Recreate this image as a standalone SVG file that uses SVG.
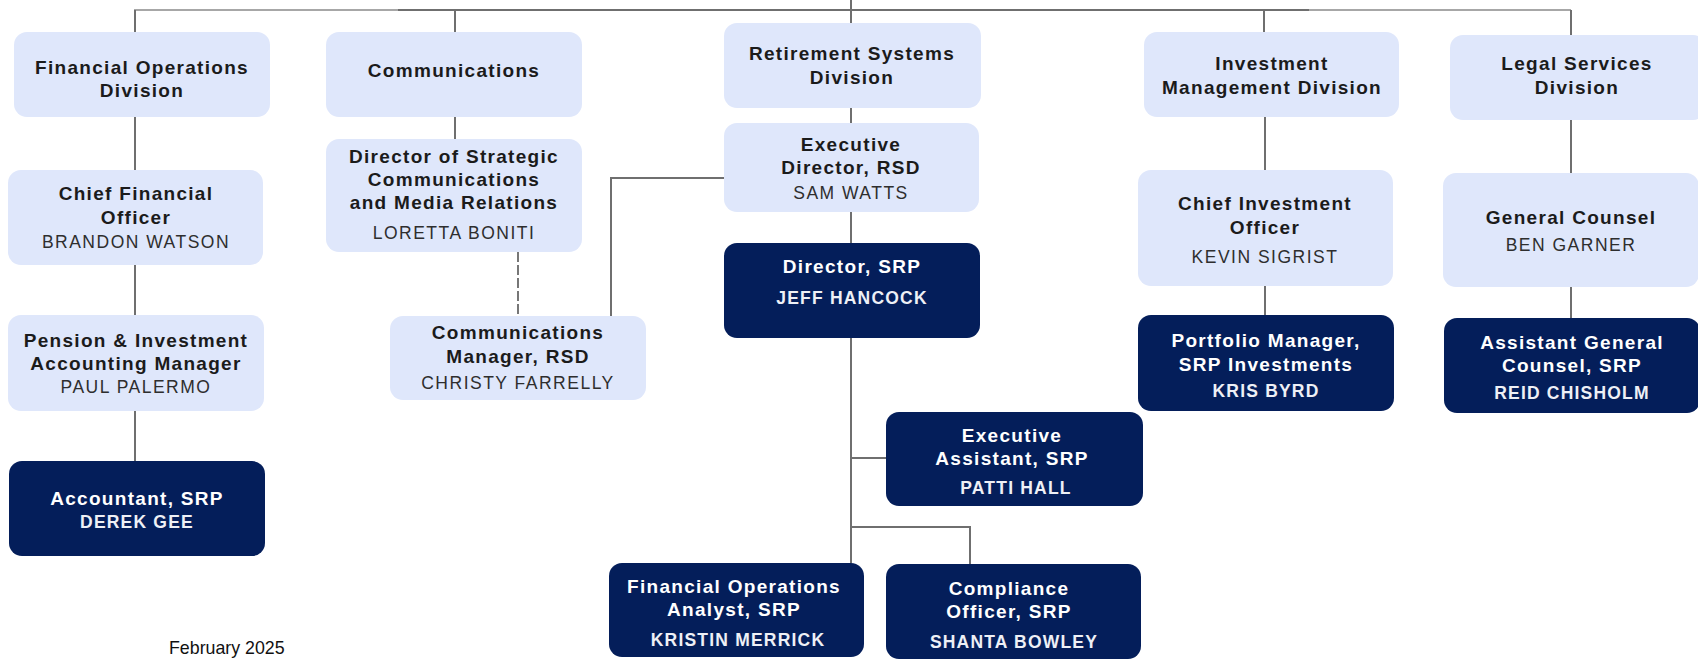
<svg xmlns="http://www.w3.org/2000/svg" width="1698" height="659" viewBox="0 0 1698 659">
<style>
.light{fill:#dfe7fb;}
.dark{fill:#041e5a;}
text{font-family:"Liberation Sans",Arial,sans-serif;text-anchor:middle;}
.t{font-size:19px;font-weight:bold;letter-spacing:1.3px;fill:#1b1b1b;}
.n{font-size:17.5px;letter-spacing:1.5px;fill:#2e2e2e;}
.tw{font-size:19px;font-weight:bold;letter-spacing:1.3px;fill:#ffffff;}
.nw{font-size:17.5px;font-weight:bold;letter-spacing:1.2px;fill:#eef0f6;}
.c{fill:none;stroke:#6f6f6f;stroke-width:2;}
.cthin{fill:none;stroke:#8a8a8a;stroke-width:1.6;}
.dash{fill:none;stroke:#555;stroke-width:1.6;stroke-dasharray:10 3;}
</style>
<rect width="1698" height="659" fill="#ffffff"/>
<g id="connectors">
<path class="c" d="M398 10 H1309"/>
<path class="cthin" d="M134 10 H398 M1309 10 H1571"/>
<path class="c" d="M135 10 V32 M455 10 V32 M851 0 V23 M1264 10 V32 M1571 10 V35"/>
<path class="c" d="M135 117 V170 M135 265 V315 M135 411 V461"/>
<path class="c" d="M455 117 V139"/>
<path class="dash" d="M518 252 V316"/>
<path class="c" d="M851 108 V123 M851 212 V243 M851 338 V563"/>
<path class="c" d="M851 458 H886"/>
<path class="c" d="M851 527 H970 V564"/>
<path class="c" d="M724 178 H611 V316"/>
<path class="c" d="M1265 117 V170 M1265 286 V315"/>
<path class="c" d="M1571 120 V173 M1571 287 V318"/>
</g>
<g id="fod">
<rect class="light" x="14" y="32" width="256" height="85" rx="13"/>
<text class="t" x="142" y="74">Financial Operations</text>
<text class="t" x="142" y="97">Division</text>
</g>
<g id="comm">
<rect class="light" x="326" y="32" width="256" height="85" rx="13"/>
<text class="t" x="454" y="77">Communications</text>
</g>
<g id="rsd">
<rect class="light" x="724" y="23" width="257" height="85" rx="13"/>
<text class="t" x="852" y="60">Retirement Systems</text>
<text class="t" x="852" y="84">Division</text>
</g>
<g id="imd">
<rect class="light" x="1144" y="32" width="255" height="85" rx="13"/>
<text class="t" x="1272" y="70">Investment</text>
<text class="t" x="1272" y="94">Management Division</text>
</g>
<g id="lsd">
<rect class="light" x="1450" y="35" width="256" height="85" rx="13"/>
<text class="t" x="1577" y="70">Legal Services</text>
<text class="t" x="1577" y="94">Division</text>
</g>
<g id="cfo">
<rect class="light" x="8" y="170" width="255" height="95" rx="13"/>
<text class="t" x="136" y="200">Chief Financial</text>
<text class="t" x="136" y="224">Officer</text>
<text class="n" x="136" y="248">BRANDON WATSON</text>
</g>
<g id="dsc">
<rect class="light" x="326" y="139" width="256" height="113" rx="13"/>
<text class="t" x="454" y="163">Director of Strategic</text>
<text class="t" x="454" y="186">Communications</text>
<text class="t" x="454" y="209">and Media Relations</text>
<text class="n" x="454" y="239">LORETTA BONITI</text>
</g>
<g id="execdir">
<rect class="light" x="724" y="123" width="255" height="89" rx="13"/>
<text class="t" x="851" y="151">Executive</text>
<text class="t" x="851" y="174">Director, RSD</text>
<text class="n" x="851" y="199">SAM WATTS</text>
</g>
<g id="cio">
<rect class="light" x="1138" y="170" width="255" height="116" rx="13"/>
<text class="t" x="1265" y="210">Chief Investment</text>
<text class="t" x="1265" y="234">Officer</text>
<text class="n" x="1265" y="263">KEVIN SIGRIST</text>
</g>
<g id="gc">
<rect class="light" x="1443" y="173" width="256" height="114" rx="13"/>
<text class="t" x="1571" y="224">General Counsel</text>
<text class="n" x="1571" y="251">BEN GARNER</text>
</g>
<g id="pension">
<rect class="light" x="8" y="315" width="256" height="96" rx="13"/>
<text class="t" x="136" y="347">Pension &amp; Investment</text>
<text class="t" x="136" y="370">Accounting Manager</text>
<text class="n" x="136" y="393">PAUL PALERMO</text>
</g>
<g id="commmgr">
<rect class="light" x="390" y="316" width="256" height="84" rx="13"/>
<text class="t" x="518" y="339">Communications</text>
<text class="t" x="518" y="363">Manager, RSD</text>
<text class="n" x="518" y="389">CHRISTY FARRELLY</text>
</g>
<g id="dirsrp">
<rect class="dark" x="724" y="243" width="256" height="95" rx="13"/>
<text class="tw" x="852" y="273">Director, SRP</text>
<text class="nw" x="852" y="304">JEFF HANCOCK</text>
</g>
<g id="portfolio">
<rect class="dark" x="1138" y="315" width="256" height="96" rx="13"/>
<text class="tw" x="1266" y="347">Portfolio Manager,</text>
<text class="tw" x="1266" y="371">SRP Investments</text>
<text class="nw" x="1266" y="397">KRIS BYRD</text>
</g>
<g id="agc">
<rect class="dark" x="1444" y="318" width="256" height="95" rx="13"/>
<text class="tw" x="1572" y="349">Assistant General</text>
<text class="tw" x="1572" y="372">Counsel, SRP</text>
<text class="nw" x="1572" y="399">REID CHISHOLM</text>
</g>
<g id="accountant">
<rect class="dark" x="9" y="461" width="256" height="95" rx="13"/>
<text class="tw" x="137" y="505">Accountant, SRP</text>
<text class="nw" x="137" y="528">DEREK GEE</text>
</g>
<g id="execasst">
<rect class="dark" x="886" y="412" width="257" height="94" rx="13"/>
<text class="tw" x="1012" y="442">Executive</text>
<text class="tw" x="1012" y="465">Assistant, SRP</text>
<text class="nw" x="1016" y="494">PATTI HALL</text>
</g>
<g id="foa">
<rect class="dark" x="609" y="563" width="255" height="94" rx="13"/>
<text class="tw" x="734" y="593">Financial Operations</text>
<text class="tw" x="734" y="616">Analyst, SRP</text>
<text class="nw" x="738" y="646">KRISTIN MERRICK</text>
</g>
<g id="compliance">
<rect class="dark" x="886" y="564" width="255" height="95" rx="13"/>
<text class="tw" x="1009" y="595">Compliance</text>
<text class="tw" x="1009" y="618">Officer, SRP</text>
<text class="nw" x="1014" y="648">SHANTA BOWLEY</text>
</g>
<text x="169" y="654" style="font-size:17.8px;text-anchor:start;fill:#111;">February 2025</text>
</svg>
